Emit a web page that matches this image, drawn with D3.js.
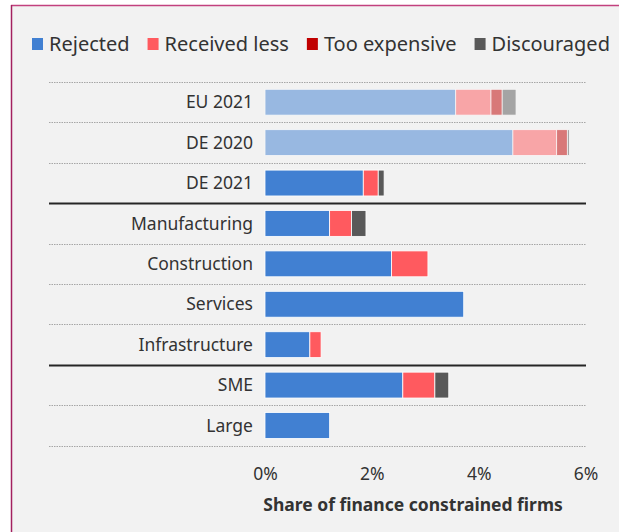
<!DOCTYPE html>
<meta charset="utf-8">
<script src="https://d3js.org/d3.v7.min.js"></script>
<style>
  body { margin: 0; background: #fff; }
  text { font-family: "Noto Sans", "Open Sans", sans-serif; fill: #333; }
</style>
<div id="my_dataviz"></div>
<script>

// data
var categories = ["EU 2021", "DE 2020", "DE 2021", "Manufacturing", "Construction", "Services", "Infrastructure", "SME", "Large"];
var seriesNames = ["Rejected", "Received less", "Too expensive", "Discouraged"];
var rejected     = [3.57, 4.64, 1.84, 1.21, 2.37, 3.72, 0.84, 2.58, 1.21];
var receivedLess = [0.66, 0.82, 0.28, 0.41, 0.68, 0,    0.21, 0.60, 0];
var tooExpensive = [0.21, 0.20, 0,    0,    0,    0,    0,    0,    0];
var discouraged  = [0.26, 0.04, 0.11, 0.27, 0,    0,    0,    0.26, 0];
var fadedRows = ["EU 2021", "DE 2020"];
var separatorsAfter = ["DE 2021", "Infrastructure"];
var tickValues = [0, 2, 4, 6];
var axisTitle = "Share of finance constrained firms";

var width = 619, height = 532;

var svg = d3.select("#my_dataviz")
  .append("svg")
    .attr("width", width)
    .attr("height", height);

// panel background + frame
svg.append("rect")
  .attr("x", 11).attr("y", 5)
  .attr("width", width - 11).attr("height", height - 5)
  .attr("fill", "#f2f2f2");
svg.append("line")
  .attr("x1", 11).attr("x2", width).attr("y1", 5.5).attr("y2", 5.5)
  .attr("stroke", "#c2407e").attr("stroke-width", 1.5);
svg.append("line")
  .attr("x1", 11.5).attr("x2", 11.5).attr("y1", 5).attr("y2", height)
  .attr("stroke", "#a3215f").attr("stroke-width", 1.5);

var color = d3.scaleOrdinal()
  .domain(seriesNames)
  .range(["#4180d2", "#ff5a5f", "#c00000", "#595959"]);

// stack the rows
var rows = categories.map(function(c, i) {
  return { cat: c, "Rejected": rejected[i], "Received less": receivedLess[i],
           "Too expensive": tooExpensive[i], "Discouraged": discouraged[i] };
});
var stacked = d3.stack().keys(seriesNames)(rows);

var x = d3.scaleLinear().domain([0, 6]).range([265, 585.5]);
var y = d3.scaleBand()
  .domain(categories)
  .range([82, 445.7])
  .paddingInner(0.36)
  .paddingOuter(0.18);

// grid lines between rows
var bounds = d3.range(categories.length + 1).map(function(i) { return y.range()[0] + i * y.step(); });
svg.selectAll("gridLine")
  .data(bounds)
  .enter()
  .append("line")
    .attr("x1", 49).attr("x2", 586)
    .attr("y1", function(d) { return Math.round(d) + 0.5; })
    .attr("y2", function(d) { return Math.round(d) + 0.5; })
    .attr("stroke", function(d, i) { return isSep(i) ? "#262626" : "#a6a6a6"; })
    .attr("stroke-width", function(d, i) { return isSep(i) ? 2 : 1; })
    .attr("stroke-dasharray", function(d, i) { return isSep(i) ? null : "1.5,1"; });

function isSep(i) {
  return i > 0 && separatorsAfter.indexOf(categories[i - 1]) >= 0;
}

// bars
svg.selectAll("series")
  .data(stacked)
  .enter()
  .append("g")
    .attr("fill", function(d) { return color(d.key); })
  .selectAll("rect")
  .data(function(d) { return d.filter(function(s) { return s[1] - s[0] > 0; }); })
  .enter()
  .append("rect")
    .attr("x", function(d) { return x(d[0]); })
    .attr("y", function(d) { return y(d.data.cat); })
    .attr("width", function(d) { return x(d[1]) - x(d[0]); })
    .attr("height", y.bandwidth())
    .attr("stroke", "#fff")
    .attr("stroke-width", 0.8)
    .attr("opacity", function(d) { return fadedRows.indexOf(d.data.cat) >= 0 ? 0.5 : 1; });

// category labels
svg.selectAll("catLabel")
  .data(categories)
  .enter()
  .append("text")
    .attr("x", 253)
    .attr("y", function(d) { return y(d) + y.bandwidth() / 2; })
    .attr("dy", "0.35em")
    .attr("text-anchor", "end")
    .style("font-size", "17.5px")
    .text(function(d) { return d; });

// x axis
var xAxis = svg.append("g")
  .attr("transform", "translate(0,465)")
  .call(d3.axisBottom(x).tickValues(tickValues).tickSize(0).tickFormat(function(d) { return d + "%"; }));
xAxis.select(".domain").remove();
xAxis.selectAll("text")
  .style("font-size", "17.5px")
  .style("font-family", "\"Noto Sans\", sans-serif")
  .attr("fill", "#404040");

svg.append("text")
  .attr("x", 413)
  .attr("y", 505)
  .attr("dy", "0.35em")
  .attr("text-anchor", "middle")
  .style("font-size", "17.5px")
  .style("font-weight", "bold")
  .text(axisTitle);

// legend
var legend = svg.append("g").attr("transform", "translate(32,44)");
var lx = 0;
seriesNames.forEach(function(name) {
  var g = legend.append("g").attr("transform", "translate(" + lx + ",0)");
  g.append("rect")
    .attr("x", 0).attr("y", -6)
    .attr("width", 11).attr("height", 12)
    .attr("fill", color(name));
  var t = g.append("text")
    .attr("x", 17)
    .attr("dy", "0.35em")
    .style("font-size", "20px")
    .text(name);
  lx += 17 + t.node().getComputedTextLength() + 18;
});

</script>
